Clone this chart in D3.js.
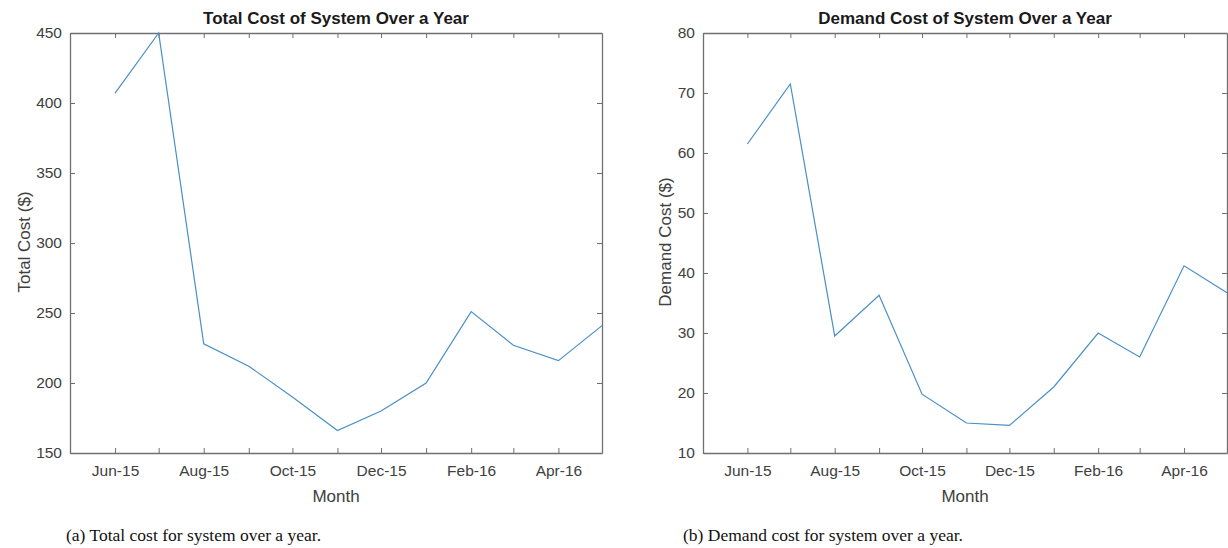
<!DOCTYPE html>
<html>
<head>
<meta charset="utf-8">
<script src="https://cdn.jsdelivr.net/npm/d3@7"></script>
<style>
  body { margin: 0; background: #fff; }
  text { font-family: "Liberation Sans", Arial, sans-serif; }
</style>
</head>
<body>
<div id="main"></div>
<script>
// months shown on both charts (one point per month)
var months = ['2015-06', '2015-07', '2015-08', '2015-09', '2015-10', '2015-11',
  '2015-12', '2016-01', '2016-02', '2016-03', '2016-04', '2016-05'];

var totalCost = [407, 450, 228, 212, 190, 166, 180, 200, 251, 227, 216, 241];

var demandCost = [61.5, 71.5, 29.5, 36.3, 19.8, 15.0, 14.6, 21.0, 30.0, 26.0, 41.2, 36.7];

var totalTicks = [150, 200, 250, 300, 350, 400, 450];
var demandTicks = [10, 20, 30, 40, 50, 60, 70, 80];

var parseMonth = d3.timeParse('%Y-%m');
var fmtMonth = d3.timeFormat('%b-%y');

var width = 1228, height = 548;

var svg = d3.select('#main').append('svg')
  .attr('width', width).attr('height', height);

function create_chart(opts) {

  var x = d3.scaleTime()
    .domain([parseMonth('2015-05'), parseMonth('2016-05')])
    .range([opts.left, opts.right]);

  var y = d3.scaleLinear()
    .domain(opts.domain)
    .range([453, 33]);

  var tickMonths = d3.timeMonth.range(parseMonth('2015-06'), parseMonth('2016-05'));

  var g = svg.append('g');

  // bottom axis with labels every second month
  g.append('g')
    .attr('transform', 'translate(0,453)')
    .call(d3.axisBottom(x).tickValues(tickMonths).tickSizeInner(-5).tickSizeOuter(0).tickPadding(12)
      .tickFormat(function (d, i) { return i % 2 === 0 ? fmtMonth(d) : ''; }));

  g.append('g')
    .attr('transform', 'translate(0,33)')
    .call(d3.axisTop(x).tickValues(tickMonths).tickSizeInner(-5).tickSizeOuter(0).tickFormat(''));

  g.append('g')
    .attr('transform', 'translate(' + opts.left + ',0)')
    .call(d3.axisLeft(y).tickValues(opts.ticks).tickSizeInner(-5).tickSizeOuter(0).tickPadding(8));

  g.append('g')
    .attr('transform', 'translate(' + opts.right + ',0)')
    .call(d3.axisRight(y).tickValues(opts.ticks).tickSizeInner(-5).tickSizeOuter(0).tickFormat(''));

  g.selectAll('.domain').attr('stroke', '#707070').attr('stroke-width', 1.3);
  g.selectAll('.tick line').attr('stroke', '#707070');
  g.selectAll('.tick text')
    .attr('font-size', 15.5)
    .attr('fill', '#404040')
    .style('font-family', '"Liberation Sans", Arial, sans-serif');

  var line = d3.line()
    .x(function (d) { return x(d.date); })
    .y(function (d) { return y(d.value); });

  var data = months.map(function (m, i) {
    return {date: parseMonth(m), value: opts.values[i]};
  });

  g.append('path')
    .datum(data)
    .attr('fill', 'none')
    .attr('stroke', '#4a8fc4')
    .attr('stroke-width', 1.2)
    .attr('d', line);

  var cx = (opts.left + opts.right) / 2;

  g.append('text')
    .attr('x', cx).attr('y', 24)
    .attr('text-anchor', 'middle')
    .attr('font-size', 17)
    .attr('font-weight', 'bold')
    .attr('fill', '#1a1a1a')
    .text(opts.title);

  g.append('text')
    .attr('x', cx).attr('y', 502)
    .attr('text-anchor', 'middle')
    .attr('font-size', 17)
    .attr('fill', '#404040')
    .text('Month');

  g.append('text')
    .attr('transform', 'translate(' + opts.ylabelX + ',242) rotate(-90)')
    .attr('text-anchor', 'middle')
    .attr('font-size', 17)
    .attr('fill', '#404040')
    .text(opts.ylabel);

  g.append('text')
    .attr('x', opts.captionX).attr('y', 541)
    .attr('font-size', 17.5)
    .attr('fill', '#111')
    .style('font-family', '"Liberation Serif", "Times New Roman", serif')
    .text(opts.caption);
}

create_chart({
  left: 70, right: 602, domain: [150, 450], ticks: totalTicks, values: totalCost,
  title: 'Total Cost of System Over a Year', ylabel: 'Total Cost ($)', ylabelX: 30,
  caption: '(a) Total cost for system over a year.', captionX: 66
});

create_chart({
  left: 703, right: 1227, domain: [10, 80], ticks: demandTicks, values: demandCost,
  title: 'Demand Cost of System Over a Year', ylabel: 'Demand Cost ($)', ylabelX: 671,
  caption: '(b) Demand cost for system over a year.', captionX: 683
});
</script>
</body>
</html>
